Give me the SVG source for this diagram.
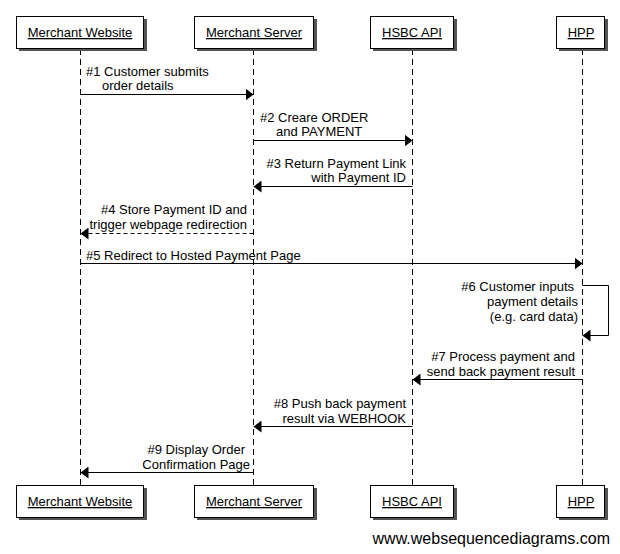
<svg xmlns="http://www.w3.org/2000/svg" width="620" height="554" viewBox="0 0 620 554">
<style>
text{font-family:"Liberation Sans",Arial,sans-serif;font-size:13px;fill:#000}
.lbl{text-anchor:middle;text-decoration:underline}
.box{fill:#fff;stroke:#000;stroke-width:1}
.sh{fill:#555}
.life{stroke:#000;stroke-width:1;stroke-dasharray:6,4;fill:none}
.msg{stroke:#000;stroke-width:1;fill:none}
.dash{stroke-dasharray:4,3}
.e{text-anchor:end}
</style>
<defs>
<marker id="ah" viewBox="0 0 8 12" refX="8" refY="6" markerWidth="8" markerHeight="12" markerUnits="userSpaceOnUse" orient="auto">
<path d="M0,0 L8,6 L0,12 Z" fill="#000"/>
</marker>
</defs>
<rect width="620" height="554" fill="#fff"/>
<g id="lifelines">
<line class="life" x1="80.5" y1="49" x2="80.5" y2="485"/>
<line class="life" x1="253.5" y1="49" x2="253.5" y2="485"/>
<line class="life" x1="412.5" y1="49" x2="412.5" y2="485"/>
<line class="life" x1="582.5" y1="49" x2="582.5" y2="485"/>
</g>
<g id="node-merchant-website">
<rect class="sh" x="19" y="19" width="128" height="32"/>
<rect class="box" x="16.5" y="16.5" width="127" height="32"/>
<text class="lbl" x="80" y="37">Merchant Website</text>
<rect class="sh" x="19" y="488" width="128" height="32"/>
<rect class="box" x="16.5" y="485.5" width="127" height="32"/>
<text class="lbl" x="80" y="506">Merchant Website</text>
</g>
<g id="node-merchant-server">
<rect class="sh" x="197" y="19" width="120" height="32"/>
<rect class="box" x="194.5" y="16.5" width="119" height="32"/>
<text class="lbl" x="254" y="37">Merchant Server</text>
<rect class="sh" x="197" y="488" width="120" height="32"/>
<rect class="box" x="194.5" y="485.5" width="119" height="32"/>
<text class="lbl" x="254" y="506">Merchant Server</text>
</g>
<g id="node-hsbc-api">
<rect class="sh" x="373" y="19" width="84" height="32"/>
<rect class="box" x="370.5" y="16.5" width="83" height="32"/>
<text class="lbl" x="412" y="37">HSBC API</text>
<rect class="sh" x="373" y="488" width="84" height="32"/>
<rect class="box" x="370.5" y="485.5" width="83" height="32"/>
<text class="lbl" x="412" y="506">HSBC API</text>
</g>
<g id="node-hpp">
<rect class="sh" x="559" y="19" width="49" height="32"/>
<rect class="box" x="556.5" y="16.5" width="48" height="32"/>
<text class="lbl" x="581" y="37">HPP</text>
<rect class="sh" x="559" y="488" width="49" height="32"/>
<rect class="box" x="556.5" y="485.5" width="48" height="32"/>
<text class="lbl" x="581" y="506">HPP</text>
</g>
<g id="connectors">
<line class="msg" x1="80.5" y1="94.5" x2="253.5" y2="94.5" marker-end="url(#ah)"/>
<line class="msg" x1="253.5" y1="140.5" x2="412.5" y2="140.5" marker-end="url(#ah)"/>
<line class="msg" x1="412.5" y1="186.5" x2="253.5" y2="186.5" marker-end="url(#ah)"/>
<line class="msg dash" x1="253.5" y1="233.5" x2="80.5" y2="233.5" marker-end="url(#ah)"/>
<line class="msg" x1="80.5" y1="263.5" x2="582.5" y2="263.5" marker-end="url(#ah)"/>
<polyline class="msg" points="582.5,285.5 608.5,285.5 608.5,335.5 582.5,335.5" marker-end="url(#ah)"/>
<line class="msg" x1="582.5" y1="379.5" x2="412.5" y2="379.5" marker-end="url(#ah)"/>
<line class="msg" x1="412.5" y1="426.5" x2="253.5" y2="426.5" marker-end="url(#ah)"/>
<line class="msg" x1="253.5" y1="472.5" x2="80.5" y2="472.5" marker-end="url(#ah)"/>
</g>
<g id="labels">
<text x="86" y="76">#1 Customer submits</text>
<text x="102" y="90">order details</text>
<text x="260" y="122">#2 Creare ORDER</text>
<text x="276" y="136">and PAYMENT</text>
<text class="e" x="406" y="168">#3 Return Payment Link</text>
<text class="e" x="406" y="182">with Payment ID</text>
<text class="e" x="247" y="214">#4 Store Payment ID and</text>
<text class="e" x="247" y="229">trigger webpage redirection</text>
<text x="86" y="260">#5 Redirect to Hosted Payment Page</text>
<text class="e" x="574" y="291">#6 Customer inputs</text>
<text class="e" x="578" y="306">payment details</text>
<text class="e" x="578" y="321">(e.g. card data)</text>
<text class="e" x="575" y="361">#7 Process payment and</text>
<text class="e" x="575" y="376">send back payment result</text>
<text class="e" x="406" y="408">#8 Push back payment</text>
<text class="e" x="406" y="423">result via WEBHOOK</text>
<text class="e" x="245" y="454">#9 Display Order</text>
<text class="e" x="250" y="469">Confirmation Page</text>
<text x="610" y="544" style="font-size:16px;text-anchor:end">www.websequencediagrams.com</text>
</g>
</svg>
